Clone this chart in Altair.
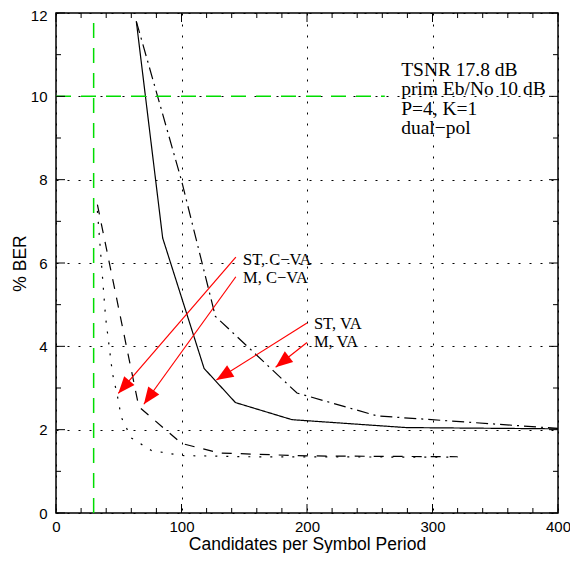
import math
import altair as alt
import pandas as pd

# ---------------- data ----------------
series_names = ["ST, VA", "M, VA", "ST, C−VA", "M, C−VA"]

st_va_x = [64, 85, 118, 143, 188, 279, 400]
st_va_y = [11.8, 6.6, 3.47, 2.65, 2.24, 2.05, 2.02]

m_va_x = [64, 100, 127, 192, 256, 400]
m_va_y = [11.8, 7.98, 4.72, 2.88, 2.33, 2.03]

st_cva_x = [33, 39.5, 45, 49, 52, 60, 76, 100, 150, 320]
st_cva_y = [7.25, 4.7, 3.35, 2.8, 2.3, 1.8, 1.5, 1.38, 1.35, 1.34]

m_cva_x = [33, 66, 100, 130, 200, 320]
m_cva_y = [7.4, 2.55, 1.67, 1.44, 1.37, 1.35]

# arrow annotations (start near label -> tip at curve)
arrow_x0 = [143.3, 143.3, 200, 200]
arrow_y0 = [6.14, 5.67, 4.56, 4.09]
arrow_x1 = [49.6, 70, 127.8, 175]
arrow_y1 = [2.87, 2.61, 3.19, 3.5]

label_text = ["ST, C−VA", "M, C−VA", "ST, VA", "M, VA"]
label_x = [149, 149, 205.5, 205.5]
label_y = [5.95, 5.53, 4.42, 3.98]

info_lines = ["TSNR 17.8 dB", "prim Eb/No 10 dB", "P=4, K=1", "dual−pol"]
info_x = [275]
info_y = [10.5]

green_vline_x = [30]
green_hline_y = [10]
green_hline_end = [262]

x_ticks_major = [0, 100, 200, 300, 400]
y_ticks_major = [0, 2, 4, 6, 8, 10, 12]
x_ticks_minor = [v for v in range(0, 401, 20) if v % 100 != 0]
y_ticks_minor = [v for v in range(0, 13) if v % 2 != 0]

# ---------------- layout ----------------
W, H = 502, 500
XMAX, YMAX = 400, 12
xs = alt.Scale(domain=[0, XMAX], nice=False, zero=False)
ys = alt.Scale(domain=[0, YMAX], nice=False, zero=False)

SANS = "Liberation Sans"
SERIF = "Liberation Serif"

rows = []
for name, xv, yv in zip(series_names,
                        [st_va_x, m_va_x, st_cva_x, m_cva_x],
                        [st_va_y, m_va_y, st_cva_y, m_cva_y]):
    for i, (a, b) in enumerate(zip(xv, yv)):
        rows.append({"series": name, "i": i, "x": a, "y": b})
lines_df = pd.DataFrame(rows)

dashes = [[1, 0], [12, 5, 2, 5], [2, 9], [10, 9]]

x_axis = alt.Axis(values=x_ticks_major, grid=True, gridDash=[2, 9], gridColor="black",
                  gridOpacity=1, gridWidth=1, ticks=False, tickSize=0, domain=False,
                  labelFont=SANS, labelFontSize=15, labelColor="black", labelPadding=6,
                  labelFlush=False, title="Candidates per Symbol Period", titleFont=SANS,
                  titleFontSize=17.5, titleFontWeight="normal", titleColor="black",
                  titleY=31, titleBaseline="middle")
y_axis = alt.Axis(values=y_ticks_major, grid=True, gridDash=[2, 9], gridColor="black",
                  gridOpacity=1, gridWidth=1, ticks=False, tickSize=0, domain=False,
                  labelFont=SANS, labelFontSize=15, labelColor="black", labelPadding=9,
                  labelFlush=False,
                  labelOffset={"condition": {"test": "datum.value == 12", "value": 2},
                               "value": 0},
                  title="% BER", titleFont=SANS, titleFontSize=17.5,
                  titleFontWeight="normal", titleColor="black", titleX=-36,
                  titleBaseline="middle")


def X(field):
    return alt.X(f"{field}:Q", scale=xs, axis=x_axis)


def Y(field):
    return alt.Y(f"{field}:Q", scale=ys, axis=y_axis)


lines = alt.Chart(lines_df).mark_line(color="black", strokeWidth=1.2).encode(
    x=X("x"),
    y=Y("y"),
    strokeDash=alt.StrokeDash("series:N", scale=alt.Scale(domain=series_names, range=dashes),
                              legend=None),
    detail="series:N",
    order="i:Q",
)

# green reference lines
gv = alt.Chart(pd.DataFrame({"x": green_vline_x, "y": [0], "y2": [YMAX]})).mark_rule(
    color="#00dd00", strokeWidth=1.5, strokeDash=[15, 10]).encode(
    x=X("x"), y=Y("y"), y2="y2:Q")
gh = alt.Chart(pd.DataFrame({"y": green_hline_y, "x": [0], "x2": green_hline_end})).mark_rule(
    color="#00dd00", strokeWidth=1.5, strokeDash=[15, 10]).encode(
    y=Y("y"), x=X("x"), x2="x2:Q")


# inward ticks on all four sides
def xticks(vals, length):
    d = pd.DataFrame({"x": vals})
    bot = alt.Chart(d).mark_rule(color="black", strokeWidth=1).encode(
        x=X("x"), y=alt.value(H), y2=alt.value(H - length))
    top = alt.Chart(d).mark_rule(color="black", strokeWidth=1).encode(
        x=X("x"), y=alt.value(0), y2=alt.value(length))
    return [bot, top]


def yticks(vals, length):
    d = pd.DataFrame({"y": vals})
    lft = alt.Chart(d).mark_rule(color="black", strokeWidth=1).encode(
        y=Y("y"), x=alt.value(0), x2=alt.value(length))
    rgt = alt.Chart(d).mark_rule(color="black", strokeWidth=1).encode(
        y=Y("y"), x=alt.value(W), x2=alt.value(W - length))
    return [lft, rgt]


tick_layers = (xticks(x_ticks_minor, 5) + xticks(x_ticks_major, 9)
               + yticks(y_ticks_minor, 5) + yticks(y_ticks_major, 9))

# arrows
sx, sy = W / XMAX, H / YMAX
angles = []
for a0, b0, a1, b1 in zip(arrow_x0, arrow_y0, arrow_x1, arrow_y1):
    dx = (a1 - a0) * sx
    dy = -(b1 - b0) * sy
    angles.append(math.degrees(math.atan2(dx, -dy)) % 360)
arr_df = pd.DataFrame({"x": arrow_x0, "y": arrow_y0, "x2": arrow_x1, "y2": arrow_y1,
                       "ang": angles})
arrow_lines = alt.Chart(arr_df).mark_rule(color="red", strokeWidth=1.2).encode(
    x=X("x"), y=Y("y"), x2="x2:Q", y2="y2:Q")
arrow_heads = alt.Chart(arr_df).mark_point(
    shape="M0,0 L-0.4,1 L0.4,1 Z", filled=True, color="red", opacity=1, size=1150,
    strokeWidth=0).encode(
    x=X("x2"), y=Y("y2"),
    angle=alt.Angle("ang:Q", scale=None))

labels = alt.Chart(pd.DataFrame({"x": label_x, "y": label_y, "t": label_text})).mark_text(
    align="left", baseline="alphabetic", font=SERIF, fontSize=16.5, color="black").encode(
    x=X("x"), y=Y("y"), text="t:N")

info = alt.Chart(pd.DataFrame({"x": info_x, "y": info_y})).mark_text(
    text=info_lines, align="left", baseline="alphabetic", font=SERIF, fontSize=19.5,
    lineHeight=19.5, color="black").encode(
    x=X("x"), y=Y("y"))

chart = alt.layer(lines, gv, gh, *tick_layers, arrow_lines, arrow_heads, labels, info).properties(
    width=W, height=H,
    autosize=alt.AutoSizeParams(type="none"),
    padding={"left": 48, "top": 5, "right": 12, "bottom": 40},
    background="white",
).configure_view(stroke="black", strokeWidth=1.5)

chart.save("out.html", embed_options={"renderer": "svg", "actions": False})
